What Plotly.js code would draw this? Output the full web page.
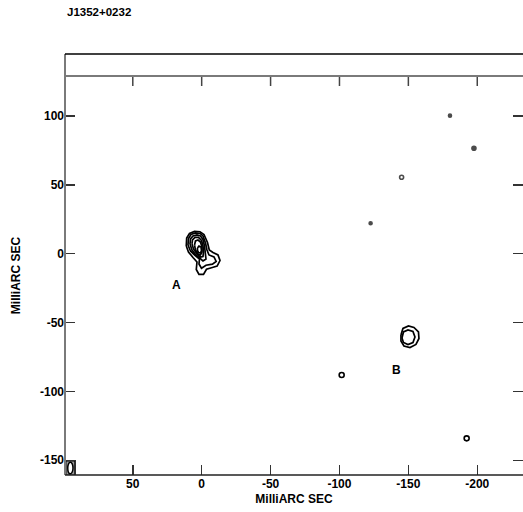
<!DOCTYPE html>
<html>
<head>
<meta charset="utf-8">
<script src="https://cdn.plot.ly/plotly-3.0.1.min.js"></script>
<style>html,body{margin:0;padding:0;background:#fff;}#chart{width:523px;height:512px;}</style>
</head>
<body>
<div id="chart"></div>
<script>
// ---- data (MilliARC SEC offsets) ----
const sourceName = "J1352+0232";
const axisLabel = "MilliARC SEC";
const xTicks = [50, 0, -50, -100, -150, -200];
const yTicks = [100, 50, 0, -50, -100, -150];
const xRange = [99.2, -233.2];
const yRange = [-160.7, 129.0];
const yFrameTop = 145.0;

// component A contours (nested, outer -> inner)
const contourA1x = [11.18, 10.89, 8.85, 5.22, 1.23, -1.67, -4.21, -5.52, -8.20, -11.83, -13.3, -11.2, -7.11, -3.48, -1.31, 1.96, 3.92, 3.41, 6.31, 9.58, 11.18];
const contourA1y = [5.59, 11.40, 14.67, 16.12, 15.90, 13.94, 8.13, 2.69, 0.87, -0.94, -5.0, -9.0, -10.2, -11.3, -15.0, -15.0, -11.5, -6.03, -2.76, 1.23, 5.59];
const contourA2x = [9.94, 9.58, 7.76, 4.50, 1.23, -0.94, -2.76, -3.85, -5.30, -8.93, -10.5, -7.8, -3.12, 0.15, 1.96, 1.60, 4.86, 8.13, 9.94];
const contourA2y = [6.32, 11.04, 13.94, 15.03, 14.67, 12.85, 7.77, 2.69, -0.94, -2.40, -5.6, -7.6, -8.4, -10.6, -7.5, -3.85, -1.31, 1.96, 6.32];
const contourA3x = [8.49, 8.13, 6.31, 3.41, 0.87, -0.94, -2.03, -2.76, -3.12, -0.94, 1.23, 4.14, 7.04, 8.49];
const contourA3y = [7.04, 10.68, 12.85, 13.58, 12.85, 10.31, 5.59, 0.51, -3.85, -5.30, -3.49, -0.94, 2.69, 7.04];
const contourA4x = [7.04, 6.68, 4.86, 2.32, 0.15, -0.94, -1.31, -0.94, 0.87, 3.41, 5.95, 7.04];
const contourA4y = [7.04, 9.95, 11.76, 11.76, 9.59, 5.59, 1.23, -2.03, -2.40, -0.22, 3.41, 7.04];
const contourA5x = [5.22, 4.50, 2.69, 0.87, -0.22, -0.22, 0.87, 2.69, 4.50, 5.22];
const contourA5y = [6.32, 9.22, 9.95, 8.50, 4.87, 1.23, -0.94, -0.22, 2.69, 6.32];
const contourA6x = [3.05, 1.96, 0.51, 0.15, 0.87, 2.32, 3.05, 3.05];
const contourA6y = [4.14, 5.59, 4.87, 2.32, 0.51, 0.87, 2.32, 4.14];

// component B contours
const contourB1x = [-144.63, -146.08, -150.07, -154.06, -157.33, -157.69, -155.51, -151.16, -146.81, -144.63, -144.63];
const contourB1y = [-59.04, -54.32, -52.51, -53.60, -56.86, -61.58, -65.94, -68.12, -67.03, -63.40, -59.04];
const contourB2x = [-145.36, -146.44, -149.71, -153.34, -154.79, -153.34, -149.71, -146.44, -145.36];
const contourB2y = [-61.22, -56.86, -55.41, -56.50, -60.49, -64.49, -65.94, -64.49, -61.22];

// small isolated positive islands
const spotX = [-180.2, -197.6, -145.1, -122.6];
const spotY = [100.2, 76.5, 55.5, 22.1];
const spotSize = [3, 4, 4, 3];
const spotSymbol = ["circle", "circle", "circle-open", "circle"];
// negative (dashed) islands
const negX = [-101.6, -192.3];
const negY = [-88.1, -134.1];

// component labels
const labelText = ["A", "B"];
const labelX = [18.6, -141.7];
const labelY = [-22.7, -84.5];

// restoring beam (corner box)
const beamBoxX = [98.7, 91.9];
const beamBoxY = [-150.3, -161.0];
const beamCenter = [95.3, -155.6];
const beamHalfAxes = [1.9, 4.2];

// ---- traces ----
const plotH = 512 - 76 - 37;
const tickUnits = 10 * (yRange[1] - yRange[0]) / plotH;
const topTickX = [], topTickY = [];
xTicks.forEach(v => { topTickX.push(v, v, null); topTickY.push(yRange[1], yRange[1] - tickUnits, null); });

const line = {color: "#000", width: 1.7};
function contour(x, y) {
  return {x: x, y: y, type: "scatter", mode: "lines", line: line, hoverinfo: "skip", showlegend: false};
}
const traces = [
  contour(contourA1x, contourA1y),
  contour(contourA2x, contourA2y),
  contour(contourA3x, contourA3y),
  contour(contourA4x, contourA4y),
  contour(contourA5x, contourA5y),
  contour(contourA6x, contourA6y),
  contour(contourB1x, contourB1y),
  contour(contourB2x, contourB2y),
  {x: spotX, y: spotY, type: "scatter", mode: "markers", showlegend: false, hoverinfo: "skip",
   marker: {symbol: spotSymbol, size: spotSize, color: "#000", line: {width: 1.6, color: "#000"}}},
  {x: negX, y: negY, type: "scatter", mode: "markers", showlegend: false, hoverinfo: "skip",
   marker: {symbol: "circle-open", size: 5, color: "#000", line: {width: 1.6, color: "#000"}}},
  {x: [beamBoxX[0], beamBoxX[1], beamBoxX[1], beamBoxX[0], beamBoxX[0]],
   y: [beamBoxY[0], beamBoxY[0], beamBoxY[1], beamBoxY[1], beamBoxY[0]],
   type: "scatter", mode: "lines", fill: "toself", fillcolor: "#999",
   line: {color: "#000", width: 1.5}, showlegend: false, hoverinfo: "skip"},
  // tick marks hanging from the top frame line
  {x: topTickX, y: topTickY, type: "scatter", mode: "lines", connectgaps: false,
   line: {color: "#444", width: 1.5}, showlegend: false, hoverinfo: "skip"}
];

const frameGray = "#7a7a7a";
const topFrac = 1 + (yFrameTop - yRange[1]) / (yRange[1] - yRange[0]);

const frameShapes = [
  {type: "line", xref: "paper", yref: "paper", x0: 0, x1: 0, y0: 0, y1: topFrac, line: {color: frameGray, width: 2}},
  {type: "line", xref: "paper", yref: "paper", x0: 0, x1: 1, y0: 1, y1: 1, line: {color: frameGray, width: 2}},
  {type: "line", xref: "paper", yref: "paper", x0: 0, x1: 1, y0: topFrac, y1: topFrac, line: {color: "#000", width: 1.5}},
  {type: "line", xref: "paper", yref: "paper", x0: 0, x1: 1, y0: 0, y1: 0, line: {color: "#222", width: 1.5}},
  {type: "circle", xref: "x", yref: "y",
   x0: beamCenter[0] - beamHalfAxes[0], x1: beamCenter[0] + beamHalfAxes[0],
   y0: beamCenter[1] - beamHalfAxes[1], y1: beamCenter[1] + beamHalfAxes[1],
   line: {color: "#000", width: 1.5}, fillcolor: "#fff"}
];

const layout = {
  width: 523, height: 512,
  margin: {l: 65, r: 0, t: 76, b: 37},
  paper_bgcolor: "#fff", plot_bgcolor: "#fff",
  font: {family: "Liberation Sans, Arial, sans-serif", size: 12, color: "#000"},
  showlegend: false,
  title: {text: "<b>" + sourceName + "</b>", x: 67 / 523, xanchor: "left", y: 1 - 12 / 512, yanchor: "middle",
          font: {size: 11.5, color: "#000"}},
  xaxis: {
    range: xRange, tickvals: xTicks, ticktext: xTicks.map(String),
    ticks: "inside", ticklen: 10, tickwidth: 1.5, tickcolor: "#333",
    showline: false, showgrid: false, zeroline: false,
    tickfont: {size: 12, color: "#000", weight: "bold"},
    title: {text: "<b>" + axisLabel + "</b>", font: {size: 12}, standoff: 4}
  },
  yaxis: {
    range: yRange, tickvals: yTicks, ticktext: yTicks.map(String),
    ticks: "inside", ticklen: 10, tickwidth: 1.5, tickcolor: "#333",
    mirror: "ticks", showline: false, showgrid: false, zeroline: false,
    tickfont: {size: 12, color: "#000", weight: "bold"},
    title: {text: "<b>" + axisLabel + "</b>", font: {size: 12}, standoff: 16}
  },
  shapes: frameShapes,
  annotations: labelText.map((t, i) => ({
    text: "<b>" + t + "</b>", x: labelX[i], y: labelY[i], xref: "x", yref: "y",
    showarrow: false, font: {size: 12, color: "#000"}
  }))
};

Plotly.newPlot("chart", traces, layout, {staticPlot: true, displayModeBar: false});
</script>
</body>
</html>
